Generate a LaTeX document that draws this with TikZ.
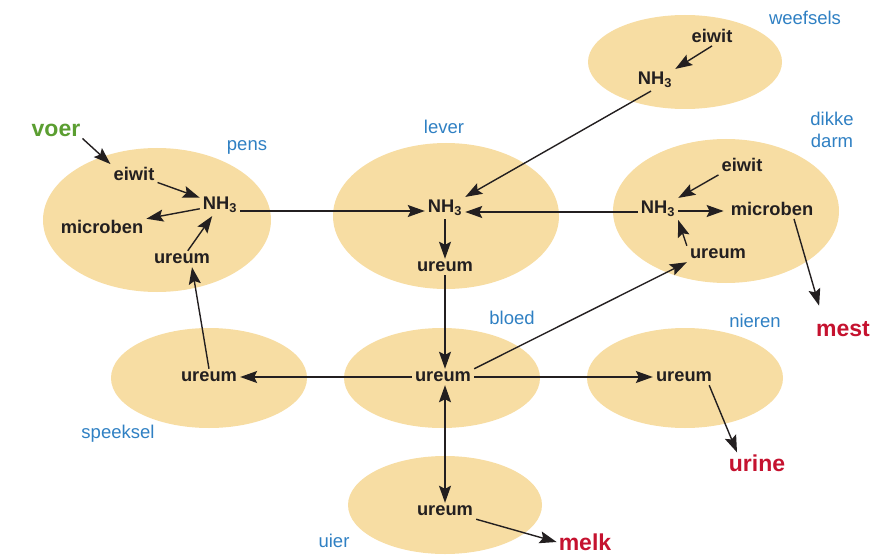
\documentclass[tikz,border=0pt]{standalone}
\usepackage{fontspec}
\setmainfont{Liberation Sans}
\usetikzlibrary{arrows.meta,calc}
\definecolor{blob}{HTML}{F7DDA3}
\definecolor{lblue}{HTML}{2F80C3}
\definecolor{lgreen}{HTML}{5B9E31}
\definecolor{lred}{HTML}{C5122F}
\definecolor{ink}{HTML}{231F20}
\begin{document}
\begin{tikzpicture}[x=1pt,y=-1pt,
  >={Stealth[length=17pt,width=12pt,inset=3pt]},
  t/.style={font=\fontsize{18.3}{20}\selectfont\bfseries,text=ink,inner sep=3pt},
  lab/.style={font=\fontsize{18.5}{22}\selectfont,text=lblue,inner sep=0pt,align=center},
  big/.style={font=\fontsize{23}{25}\selectfont\bfseries,inner sep=2pt},
  arr/.style={draw=ink,line width=1.4pt,->},
  darr/.style={draw=ink,line width=1.4pt,<->}]
\useasboundingbox (0,0) rectangle (890,556);
% blobs
\fill[blob] (685,62) ellipse [x radius=97, y radius=47];
\fill[blob] (157,220) ellipse [x radius=114, y radius=72];
\fill[blob] (446,216) ellipse [x radius=113, y radius=73];
\fill[blob] (726,211) ellipse [x radius=113, y radius=72];
\fill[blob] (209,378) ellipse [x radius=98, y radius=50];
\fill[blob] (442,378) ellipse [x radius=98, y radius=50];
\fill[blob] (685,378) ellipse [x radius=98, y radius=50];
\fill[blob] (445,505) ellipse [x radius=97, y radius=49];
% labels
\node[lab] (lw) at (805,18) {weefsels};
\node[lab] (lp) at (247,147) {pens};
\node[lab] (ll) at (444,127) {lever};
\node[lab] (ld) at (832,130) {dikke\\darm};
\node[lab] (lb) at (512,318) {bloed};
\node[lab] (ln2) at (755,321) {nieren};
\node[lab] (ls) at (118,434) {speeksel};
\node[lab] (lu2) at (334,541) {uier};
\node[big,text=lgreen] (voer) at (56,130) {voer};
\node[big,text=lred] (mest) at (843,329) {mest};
\node[big,text=lred] (urine) at (757,463) {urine};
\node[big,text=lred] (melk) at (585,542) {melk};
% weefsels
\node[t] (we) at (712,36) {eiwit};
\node[t] (wn) at (655,80) {NH\textsubscript{3}};
% pens
\node[t] (pe) at (134,174) {eiwit};
\node[t] (pn) at (220,205) {NH\textsubscript{3}};
\node[t] (pm) at (102,227) {microben};
\node[t] (pu) at (182,259) {ureum};
% lever
\node[t] (ln) at (445,208) {NH\textsubscript{3}};
\node[t] (lu) at (445,267) {ureum};
% dikke darm
\node[t] (de) at (742,165) {eiwit};
\node[t] (dn) at (658,209) {NH\textsubscript{3}};
\node[t] (dm) at (772,209) {microben};
\node[t] (du) at (718,254) {ureum};
% lower row
\node[t] (su) at (209,377) {ureum};
\node[t] (bu) at (443,377) {ureum};
\node[t] (nu) at (684,377) {ureum};
\node[t] (uu) at (445,511) {ureum};
% arrows
\draw[arr] (voer.south east) -- (pe.north west);
\draw[arr] (pe) -- (pn);
\draw[arr] (pn) -- (pm);
\draw[arr] (pu) -- (pn);
\draw[arr] (su.north) -- ([xshift=10pt]pu.south);
\draw[arr] ([yshift=-3pt]pn.east |- ln.west) -- ([yshift=-3pt]ln.west);
\draw[arr] ([xshift=-4pt]wn.south) -- (ln.north east);
\draw[arr] (we.south) -- (wn.north east);
\draw[arr] ([yshift=-3pt]dn.west) -- ([yshift=-3pt]ln.east |- dn.west);
\draw[arr] (de.south west) -- (dn.north east);
\draw[arr] ([yshift=-2pt]dn.east) -- ([xshift=-4pt,yshift=-2pt]dm.west);
\draw[arr] (du.north west) -- (dn.south east);
\draw[arr,shorten >=14pt] ([xshift=22pt]dm.south) -- ([xshift=-20pt]mest.north);
\draw[arr] (ln.south) -- (lu.north);
\draw[arr] (lu.south) -- (bu.north -| lu.south);
\draw[arr] (bu.west) -- (su.east);
\draw[arr] (bu.east) -- (nu.west);
\draw[arr] (bu.north east) -- (du.south west);
\draw[darr] (bu.south -| uu.north) -- (uu.north);
\draw[arr] ([xshift=-6pt]nu.south east) -- ([xshift=-20pt]urine.north);
\draw[arr] (uu.south east) -- (melk.west);
\end{tikzpicture}
\end{document}
